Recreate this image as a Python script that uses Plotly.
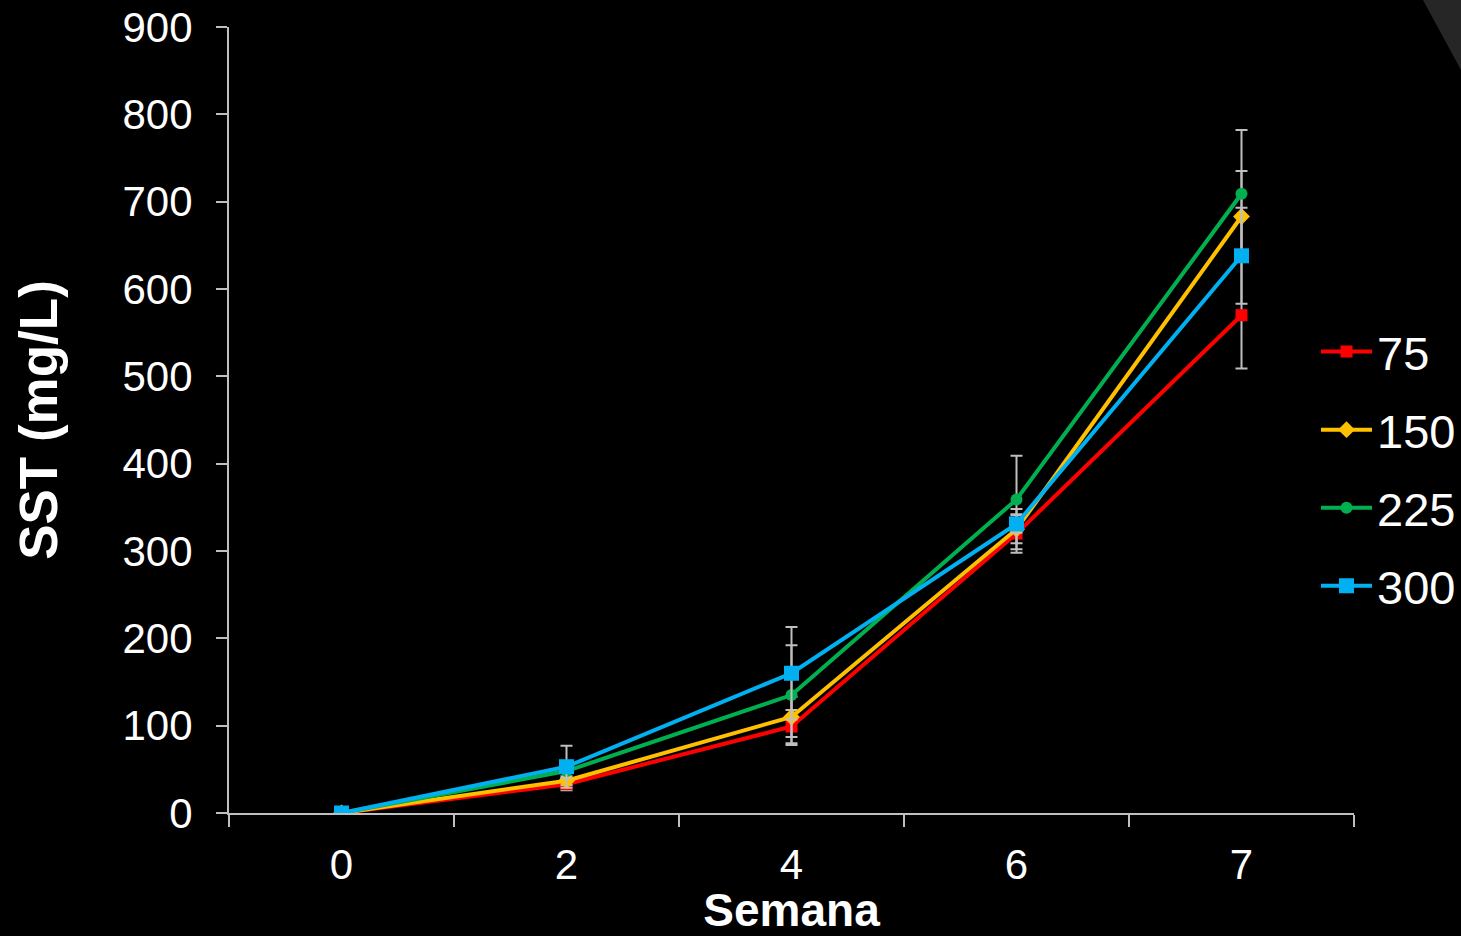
import plotly.graph_objects as go

# Weekly total suspended solids (SST) per dose
semanas = ["0", "2", "4", "6", "7"]
series_names = ["75", "150", "225", "300"]

sst_75 = [0, 33, 99, 320, 570]
sst_150 = [0, 37, 110, 325, 683]
sst_225 = [0, 48, 135, 359, 709]
sst_300 = [0, 53, 160, 331, 638]

err_75 = [0, 7, 19, 22, 61]
err_150 = [0, 5, 23, 23, 52]
err_225 = [0, 8, 57, 50, 73]
err_300 = [0, 24, 53, 10, 55]

y_ticks = [0, 100, 200, 300, 400, 500, 600, 700, 800, 900]

W, H = 1461, 936
L, R, T, B = 229, 1354, 27, 813
FONT = "Arial, Liberation Sans, sans-serif"
AXIS_COLOR = "#BFBFBF"

styles = [
    dict(color="#FF0000", symbol="square", size=12),
    dict(color="#FFC000", symbol="diamond", size=13),
    dict(color="#00B050", symbol="circle", size=12),
    dict(color="#00B0F0", symbol="square", size=15),
]
values = [sst_75, sst_150, sst_225, sst_300]
errors = [err_75, err_150, err_225, err_300]

fig = go.Figure()
for name, vals, errs, st in zip(series_names, values, errors, styles):
    fig.add_trace(go.Scatter(
        x=semanas, y=vals, name=name, mode="lines+markers",
        legendgroup=name,
        line=dict(color=st["color"], width=4),
        marker=dict(color=st["color"], symbol=st["symbol"], size=st["size"],
                    line=dict(width=0)),
        error_y=dict(type="data", array=errs, visible=True,
                     color=AXIS_COLOR, thickness=2, width=6),
    ))


def px_x(px):
    return (px - L) / (R - L)


def px_y(py):
    return (B - py) / (B - T)


fig.update_layout(
    width=W, height=H,
    margin=dict(l=L, r=W - R, t=T, b=H - B, pad=0, autoexpand=False),
    paper_bgcolor="#000000", plot_bgcolor="#000000",
    font=dict(family=FONT, color="#FFFFFF", size=40),
    showlegend=True,
    legend=dict(
        x=px_x(1316), xanchor="left", y=px_y(469), yanchor="middle",
        font=dict(size=47, color="#FFFFFF", family=FONT),
        bgcolor="rgba(0,0,0,0)", tracegroupgap=14,
        traceorder="grouped", itemwidth=51,
    ),
    xaxis=dict(
        type="category", categoryorder="array", categoryarray=semanas,
        range=[-0.5, 4.5], showgrid=False, zeroline=False, automargin=False,
        showline=True, linecolor=AXIS_COLOR, linewidth=2,
        ticks="outside", tickson="boundaries", ticklen=12, tickwidth=2,
        tickcolor=AXIS_COLOR, ticklabelstandoff=14,
        tickfont=dict(size=42, color="#FFFFFF", family=FONT),
        title=dict(text="<b>Semana</b>", font=dict(size=46, color="#FFFFFF", family=FONT),
                   standoff=14),
    ),
    yaxis=dict(
        range=[0, 900], tickvals=y_ticks, showgrid=False, zeroline=False,
        automargin=False,
        showline=True, linecolor=AXIS_COLOR, linewidth=2,
        ticks="outside", ticklen=11, tickwidth=2, tickcolor=AXIS_COLOR,
        ticklabelstandoff=15,
        tickfont=dict(size=42, color="#FFFFFF", family=FONT),
        title=dict(text="<b>SST (mg/L)</b>", font=dict(size=53, color="#FFFFFF", family=FONT),
                   standoff=48),
    ),
    shapes=[dict(
        type="path", xref="paper", yref="paper", layer="below",
        path=f"M {px_x(1423)},{px_y(0)} L {px_x(1461)},{px_y(0)} L {px_x(1461)},{px_y(70)} Z",
        fillcolor="#262626", line=dict(width=0),
    )],
)

fig.write_html("out.html")
